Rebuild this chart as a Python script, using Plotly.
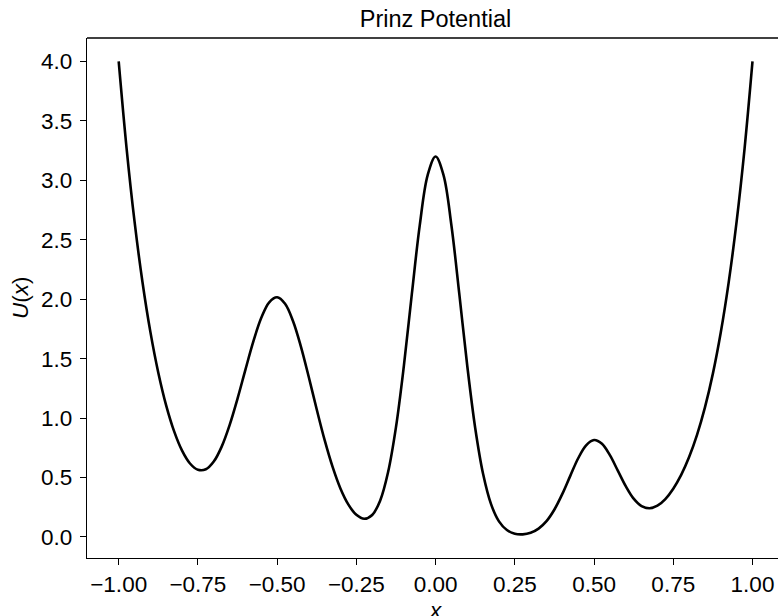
import plotly.graph_objects as go

x_vals = [-1.000, -0.975, -0.950, -0.925, -0.900, -0.875, -0.850, -0.825, -0.800, -0.775,
          -0.750, -0.725, -0.700, -0.675, -0.650, -0.625, -0.600, -0.575, -0.550, -0.525,
          -0.500, -0.475, -0.450, -0.425, -0.400, -0.375, -0.350, -0.325, -0.300, -0.275,
          -0.250, -0.225, -0.200, -0.175, -0.150, -0.125, -0.100, -0.075, -0.050, -0.025,
          0.000, 0.025, 0.050, 0.075, 0.100, 0.125, 0.150, 0.175, 0.200, 0.225,
          0.250, 0.275, 0.300, 0.325, 0.350, 0.375, 0.400, 0.425, 0.450, 0.475,
          0.500, 0.525, 0.550, 0.575, 0.600, 0.625, 0.650, 0.675, 0.700, 0.725,
          0.750, 0.775, 0.800, 0.825, 0.850, 0.875, 0.900, 0.925, 0.950, 0.975, 1.000]
u_vals = [4.000, 3.267, 2.654, 2.145, 1.725, 1.382, 1.105, 0.888, 0.726, 0.618,
          0.565, 0.569, 0.634, 0.760, 0.941, 1.164, 1.408, 1.645, 1.843, 1.974,
          2.016, 1.961, 1.816, 1.601, 1.343, 1.072, 0.814, 0.589, 0.406, 0.272,
          0.186, 0.153, 0.185, 0.305, 0.544, 0.924, 1.441, 2.042, 2.621, 3.044,
          3.200, 3.044, 2.620, 2.040, 1.438, 0.917, 0.529, 0.276, 0.131, 0.058,
          0.027, 0.022, 0.035, 0.070, 0.133, 0.231, 0.362, 0.514, 0.662, 0.771,
          0.816, 0.784, 0.688, 0.558, 0.427, 0.322, 0.260, 0.241, 0.263, 0.319,
          0.406, 0.522, 0.672, 0.859, 1.090, 1.374, 1.722, 2.144, 2.654, 3.267, 4.000]

x_ticks = [-1.0, -0.75, -0.5, -0.25, 0.0, 0.25, 0.5, 0.75, 1.0]
y_ticks = [0.0, 0.5, 1.0, 1.5, 2.0, 2.5, 3.0, 3.5, 4.0]

FONT = "Liberation Sans, Arial, sans-serif"
W, H = 778, 616

fig = go.Figure()
fig.add_trace(go.Scatter(x=x_vals, y=u_vals, mode="lines",
                         line=dict(color="black", width=2.6, shape="spline", smoothing=1.0),
                         showlegend=False, hoverinfo="skip"))

fig.update_layout(
    width=W, height=H,
    margin=dict(l=87, r=0, t=38, b=58, autoexpand=False),
    plot_bgcolor="white", paper_bgcolor="white",
    font=dict(family=FONT, size=22.5, color="black"),
    title=dict(text="Prinz Potential", x=0.5043, xref="paper", xanchor="center",
               y=1 - 19 / H, yref="container", yanchor="middle",
               font=dict(family=FONT, size=23.5, color="black")),
    xaxis=dict(range=[-1.1, 1.0805], tickvals=x_ticks, tickformat=".2f", automargin=False,
               showgrid=False, zeroline=False, showline=True, linecolor="black", linewidth=1.3,
               ticks="outside", ticklen=6, tickwidth=1.3, tickcolor="black"),
    yaxis=dict(range=[-0.177, 4.197], tickvals=y_ticks, tickformat=".1f", automargin=False,
               showgrid=False, zeroline=False, showline=True, linecolor="black", linewidth=1.3,
               ticks="outside", ticklen=6, tickwidth=1.3, tickcolor="black",
               ticklabelstandoff=3),
    shapes=[dict(type="line", xref="paper", yref="paper", x0=0, x1=1, y0=1, y1=1,
                 line=dict(color="black", width=1.3))],
    annotations=[
        dict(text="<i>x</i>", xref="paper", yref="paper", x=0.5043, y=0, yshift=-38,
             xanchor="center", yanchor="top", showarrow=False, font=dict(size=22.5)),
        dict(text="<i>U</i>(<i>x</i>)", xref="paper", yref="paper", x=0, xshift=-67,
             y=0.5, xanchor="center", yanchor="middle", textangle=-90, showarrow=False,
             font=dict(size=22.5)),
    ],
)

fig.write_html(
    "out.html",
    config={"displayModeBar": False},
    post_script="document.documentElement.style.margin='0';document.documentElement.style.overflow='hidden';"
                "document.body.style.margin='0';document.body.style.overflow='hidden';",
)
